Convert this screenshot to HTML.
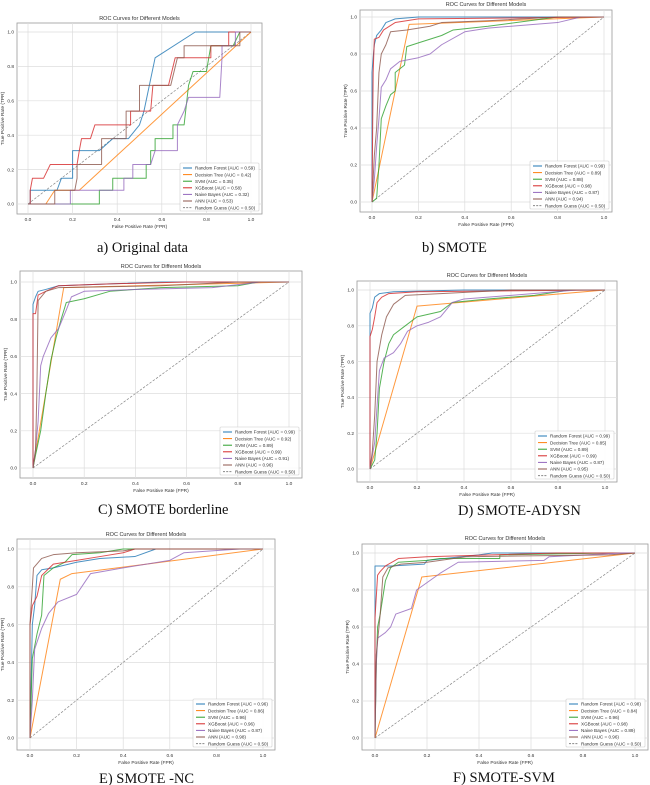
<!DOCTYPE html>
<html><head><meta charset="utf-8"><style>
html,body{margin:0;padding:0;background:#fff;}
svg{display:block;}
</style></head><body>
<svg id="fig" width="650" height="785" viewBox="0 0 650 785" xmlns="http://www.w3.org/2000/svg"></svg>
<script>
const MODEL_NAMES = ["Random Forest","Decision Tree","SVM","XGBoost","Naive Bayes","ANN","Random Guess"];
const MODEL_COLORS = ["#1f77b4","#ff7f0e","#2ca02c","#d62728","#9467bd","#8c564b","#888"];
const TICKS = [0,0.2,0.4,0.6,0.8,1.0];
const TICK_LABELS = ["0.0","0.2","0.4","0.6","0.8","1.0"];

const AUC_A = ["0.59","0.42","0.35","0.58","0.32","0.53","0.50"];
const AUC_B = ["0.99","0.89","0.88","0.98","0.87","0.94","0.50"];
const AUC_C = ["0.99","0.92","0.89","0.99","0.91","0.96","0.50"];
const AUC_D = ["0.99","0.85","0.89","0.99","0.87","0.95","0.50"];
const AUC_E = ["0.96","0.86","0.96","0.96","0.87","0.98","0.50"];
const AUC_F = ["0.98","0.84","0.96","0.98","0.89","0.96","0.50"];

const A_RF=[[0,0],[0.01,0],[0.01,0.08],[0.13,0.08],[0.15,0.15],[0.2,0.15],[0.2,0.31],[0.32,0.31],[0.38,0.38],[0.45,0.38],[0.5,0.46],[0.52,0.54],[0.57,0.85],[0.75,1],[1,1]];
const A_DT=[[0,0],[0.08,0],[0.12,0.08],[0.23,0.08],[1,1]];
const A_SVM=[[0,0],[0.32,0],[0.32,0.08],[0.38,0.08],[0.38,0.15],[0.53,0.15],[0.53,0.23],[0.55,0.23],[0.55,0.31],[0.57,0.31],[0.57,0.38],[0.65,0.38],[0.65,0.46],[0.7,0.46],[0.72,0.69],[0.74,0.77],[0.8,0.77],[0.82,0.92],[0.92,0.92],[0.95,1],[1,1]];
const A_XGB=[[0,0],[0.01,0],[0.01,0.08],[0.02,0.15],[0.07,0.15],[0.1,0.23],[0.22,0.23],[0.23,0.31],[0.24,0.38],[0.28,0.38],[0.3,0.46],[0.46,0.46],[0.46,0.54],[0.55,0.54],[0.56,0.69],[0.63,0.69],[0.66,0.85],[0.82,0.85],[0.82,0.92],[0.9,0.92],[0.9,1],[1,1]];
const A_NB=[[0,0],[0.19,0],[0.19,0.08],[0.43,0.08],[0.43,0.15],[0.47,0.15],[0.47,0.23],[0.55,0.23],[0.57,0.31],[0.67,0.31],[0.67,0.46],[0.7,0.54],[0.72,0.62],[0.86,0.62],[0.87,0.85],[0.87,0.92],[0.93,0.92],[0.93,1],[1,1]];
const A_ANN=[[0,0],[0.12,0],[0.12,0.08],[0.21,0.08],[0.22,0.15],[0.22,0.23],[0.33,0.23],[0.33,0.38],[0.44,0.38],[0.44,0.54],[0.5,0.54],[0.5,0.69],[0.64,0.69],[0.67,0.85],[0.7,0.85],[0.7,0.92],[0.95,0.92],[0.95,1],[1,1]];

const B_RF=[[0,0],[0,0.7],[0.005,0.78],[0.01,0.85],[0.02,0.9],[0.04,0.93],[0.06,0.97],[0.1,0.99],[0.2,1],[1,1]];
const B_DT=[[0,0],[0.16,0.96],[1,1]];
const B_SVM=[[0,0],[0.02,0.02],[0.03,0.2],[0.04,0.45],[0.06,0.52],[0.08,0.58],[0.1,0.6],[0.1,0.7],[0.14,0.74],[0.15,0.84],[0.2,0.86],[0.3,0.9],[0.35,0.93],[0.5,0.95],[0.8,1],[1,1]];
const B_XGB=[[0,0],[0.005,0.7],[0.01,0.88],[0.03,0.89],[0.05,0.93],[0.1,0.97],[0.2,0.99],[1,1]];
const B_NB=[[0,0],[0.01,0.12],[0.02,0.3],[0.03,0.45],[0.04,0.62],[0.06,0.66],[0.08,0.72],[0.12,0.76],[0.2,0.78],[0.25,0.8],[0.3,0.85],[0.4,0.92],[0.5,0.94],[0.8,0.97],[0.9,1],[1,1]];
const B_ANN=[[0,0],[0.01,0.25],[0.02,0.4],[0.03,0.7],[0.04,0.8],[0.06,0.85],[0.08,0.92],[0.15,0.93],[0.25,0.95],[0.3,0.97],[0.5,0.98],[0.8,1],[1,1]];

const C_RF=[[0,0],[0,0.88],[0.01,0.92],[0.02,0.95],[0.05,0.96],[0.1,0.98],[0.3,0.99],[0.5,1],[1,1]];
const C_DT=[[0,0],[0.12,0.97],[1,1]];
const C_SVM=[[0,0],[0.01,0.07],[0.03,0.2],[0.05,0.4],[0.07,0.58],[0.09,0.7],[0.11,0.8],[0.13,0.89],[0.2,0.91],[0.3,0.95],[0.5,0.97],[0.8,0.98],[0.88,1],[1,1]];
const C_XGB=[[0,0],[0,0.83],[0.01,0.83],[0.02,0.93],[0.05,0.95],[0.1,0.98],[0.3,0.99],[0.6,1],[1,1]];
const C_NB=[[0,0],[0.01,0.1],[0.02,0.25],[0.03,0.55],[0.04,0.6],[0.07,0.7],[0.1,0.75],[0.13,0.85],[0.15,0.92],[0.2,0.95],[0.4,0.96],[0.7,0.97],[0.89,1],[1,1]];
const C_ANN=[[0,0],[0.01,0.1],[0.015,0.4],[0.02,0.9],[0.05,0.95],[0.1,0.97],[0.5,0.98],[0.8,1],[1,1]];

const D_RF=[[0,0],[0,0.75],[0,0.87],[0.01,0.9],[0.02,0.96],[0.04,0.98],[0.1,0.99],[0.4,1],[1,1]];
const D_DT=[[0,0],[0.2,0.91],[1,1]];
const D_SVM=[[0,0],[0.02,0.05],[0.03,0.2],[0.04,0.45],[0.06,0.6],[0.08,0.7],[0.1,0.75],[0.15,0.8],[0.2,0.85],[0.3,0.88],[0.35,0.93],[0.5,0.95],[0.7,0.97],[0.85,1],[1,1]];
const D_XGB=[[0,0],[0,0.74],[0.01,0.78],[0.02,0.85],[0.03,0.93],[0.05,0.96],[0.08,0.98],[0.2,0.99],[1,1]];
const D_NB=[[0,0],[0.02,0.15],[0.03,0.35],[0.04,0.55],[0.06,0.62],[0.1,0.65],[0.13,0.7],[0.16,0.77],[0.2,0.8],[0.25,0.82],[0.3,0.85],[0.35,0.93],[0.4,0.95],[0.6,0.97],[0.88,1],[1,1]];
const D_ANN=[[0,0],[0.01,0.1],[0.02,0.3],[0.03,0.6],[0.05,0.75],[0.07,0.85],[0.1,0.92],[0.15,0.97],[0.3,0.98],[0.6,1],[1,1]];

const E_RF=[[0,0],[0.01,0.6],[0.02,0.7],[0.03,0.86],[0.05,0.89],[0.1,0.9],[0.2,0.93],[0.3,0.95],[0.45,0.96],[0.54,1],[1,1]];
const E_DT=[[0,0],[0.13,0.84],[0.18,0.87],[0.5,0.92],[1,1]];
const E_SVM=[[0,0],[0.01,0.42],[0.03,0.55],[0.05,0.65],[0.06,0.86],[0.1,0.9],[0.15,0.93],[0.18,0.97],[0.3,0.98],[0.4,1],[1,1]];
const E_XGB=[[0,0],[0,0.6],[0.01,0.7],[0.03,0.75],[0.05,0.86],[0.1,0.92],[0.2,0.94],[0.3,0.96],[0.4,0.98],[0.45,1],[1,1]];
const E_NB=[[0,0],[0.01,0.2],[0.02,0.47],[0.05,0.58],[0.08,0.66],[0.12,0.72],[0.2,0.76],[0.26,0.87],[0.4,0.9],[0.6,0.94],[0.66,0.98],[0.9,1],[1,1]];
const E_ANN=[[0,0],[0,0.6],[0.01,0.8],[0.015,0.9],[0.05,0.95],[0.1,0.97],[0.2,0.98],[0.4,0.99],[0.45,1],[1,1]];

const F_RF=[[0,0],[0,0.65],[0,0.93],[0.06,0.93],[0.19,0.94],[0.2,0.96],[0.4,0.99],[0.45,1],[1,1]];
const F_DT=[[0,0],[0.18,0.87],[1,1]];
const F_SVM=[[0,0],[0.005,0.4],[0.01,0.6],[0.02,0.67],[0.04,0.85],[0.06,0.92],[0.09,0.95],[0.2,0.96],[0.25,0.97],[0.48,0.97],[0.48,0.99],[0.9,1],[1,1]];
const F_XGB=[[0,0],[0,0.65],[0.01,0.88],[0.02,0.9],[0.04,0.93],[0.09,0.97],[0.2,0.98],[0.7,1],[1,1]];
const F_NB=[[0,0],[0.005,0.4],[0.01,0.54],[0.04,0.57],[0.06,0.6],[0.08,0.67],[0.14,0.7],[0.16,0.8],[0.2,0.84],[0.25,0.89],[0.32,0.95],[0.65,0.96],[0.67,0.98],[0.95,1],[1,1]];
const F_ANN=[[0,0],[0.005,0.45],[0.02,0.67],[0.03,0.87],[0.05,0.92],[0.1,0.94],[0.2,0.95],[0.35,0.98],[0.9,0.99],[1,1]];

const GUESS=[[0,0],[1,1]];

const PANELS=[
 {id:"a",cap:"a)  Original data",cx:97,cy:252,fl:17,ft:23,fr:262,fb:214,x0:28,x1:251,y0:204,y1:32,ty:20,auc:AUC_A,series:[A_RF,A_DT,A_SVM,A_XGB,A_NB,A_ANN]},
 {id:"b",cap:"b) SMOTE",cx:422,cy:252,fl:360,ft:10,fr:612,fb:212,x0:372,x1:604,y0:202,y1:17,ty:6,auc:AUC_B,series:[B_RF,B_DT,B_SVM,B_XGB,B_NB,B_ANN]},
 {id:"c",cap:"C) SMOTE borderline",cx:98,cy:514,fl:20,ft:271,fr:302,fb:478,x0:33,x1:289,y0:468,y1:282,ty:268,auc:AUC_C,series:[C_RF,C_DT,C_SVM,C_XGB,C_NB,C_ANN]},
 {id:"d",cap:"D) SMOTE-ADYSN",cx:458,cy:515,fl:357,ft:281,fr:617,fb:482,x0:370,x1:605,y0:469,y1:290,ty:277,auc:AUC_D,series:[D_RF,D_DT,D_SVM,D_XGB,D_NB,D_ANN]},
 {id:"e",cap:"E) SMOTE -NC",cx:99,cy:783,fl:17,ft:539,fr:275,fb:750,x0:30,x1:263,y0:738,y1:549,ty:536,auc:AUC_E,series:[E_RF,E_DT,E_SVM,E_XGB,E_NB,E_ANN]},
 {id:"f",cap:"F) SMOTE-SVM",cx:453,cy:782,fl:362,ft:544,fr:648,fb:750,x0:375,x1:635,y0:738,y1:553,ty:540,auc:AUC_F,series:[F_RF,F_DT,F_SVM,F_XGB,F_NB,F_ANN]}
];

const NS="http://www.w3.org/2000/svg";
const svg=document.getElementById('fig');
function mk(tag,attrs,parent){const e=document.createElementNS(NS,tag);for(const k in attrs)e.setAttribute(k,attrs[k]);(parent||svg).appendChild(e);return e;}
const FONT='"Liberation Sans", sans-serif';

PANELS.forEach(p=>{
  const g=mk('g',{});
  
  
  const sx=v=>p.x0+v*(p.x1-p.x0);
  const sy=v=>p.y0+v*(p.y1-p.y0);
  const frame=mk('rect',{x:p.fl,y:p.ft,width:p.fr-p.fl,height:p.fb-p.ft,fill:'#fff',stroke:'#999','stroke-width':0.8},g);
  
  
  TICKS.forEach((t,i)=>{
    const gx=mk('line',{x1:sx(t),x2:sx(t),y1:p.ft,y2:p.fb,stroke:'#ddd','stroke-width':0.7},g);
    
    
    const gy=mk('line',{x1:p.fl,x2:p.fr,y1:sy(t),y2:sy(t),stroke:'#ddd','stroke-width':0.7},g);
    
    
    const tx=mk('text',{x:sx(t),y:p.fb+7,'font-size':4.8,'text-anchor':'middle',fill:'#333','font-family':FONT},g);
    tx.textContent=TICK_LABELS[i];
    
    
    const ty=mk('text',{x:p.fl-3,y:sy(t)+1.7,'font-size':4.8,'text-anchor':'end',fill:'#333','font-family':FONT},g);
    ty.textContent=TICK_LABELS[i];
    
    
  });
  const title=mk('text',{x:(p.fl+p.fr)/2,y:p.ty,'font-size':5.5,'text-anchor':'middle',fill:'#333','font-family':FONT},g);
  title.textContent='ROC Curves for Different Models';
  
  
  const xl=mk('text',{x:(p.fl+p.fr)/2,y:p.fb+14,'font-size':4.8,'text-anchor':'middle',fill:'#333','font-family':FONT},g);
  xl.textContent='False Positive Rate (FPR)';
  
  
  const ylx=p.fl-13, yly=(p.ft+p.fb)/2;
  const yl=mk('text',{x:ylx,y:yly,'font-size':4.8,'text-anchor':'middle',fill:'#333','font-family':FONT,transform:`rotate(-90 ${ylx} ${yly})`},g);
  yl.textContent='True Positive Rate (TPR)';
  
  
  const gd=mk('polyline',{points:GUESS.map(d=>sx(d[0])+','+sy(d[1])).join(' '),fill:'none',stroke:'#888','stroke-width':0.7,'stroke-dasharray':'2.5,1.5'},g);
  
  
  p.series.forEach((s,i)=>{
    const pl=mk('polyline',{points:s.map(d=>sx(d[0]).toFixed(2)+','+sy(d[1]).toFixed(2)).join(' '),fill:'none',stroke:MODEL_COLORS[i],'stroke-width':1,'stroke-opacity':0.8,'stroke-linejoin':'round'},g);
    
    
  });
  const lw=79, lh=48, lx=p.fr-lw-3, ly=p.fb-lh-3;
  const lg=mk('g',{},g);
  
  
  mk('rect',{x:lx,y:ly,width:lw,height:lh,fill:'#fff','fill-opacity':0.85,stroke:'#ccc','stroke-width':0.6,rx:1},lg);
  MODEL_NAMES.forEach((n,i)=>{
    const yy=ly+5+i*6.6;
    const sw=mk('line',{x1:lx+3,x2:lx+12,y1:yy,y2:yy,stroke:MODEL_COLORS[i],'stroke-width':1,'stroke-dasharray':i===6?'2,1.2':'none'},lg);
    
    
    const lt=mk('text',{x:lx+15,y:yy+1.7,'font-size':4.6,fill:'#333','font-family':FONT},lg);
    lt.textContent=n+' (AUC = '+p.auc[i]+')';
    
    
  });
  const cap=mk('text',{x:p.cx,y:p.cy,'font-size':14.5,fill:'#111','font-family':'"Liberation Serif", serif'},g);
  cap.textContent=p.cap;
  
  
});
</script>
</body></html>
